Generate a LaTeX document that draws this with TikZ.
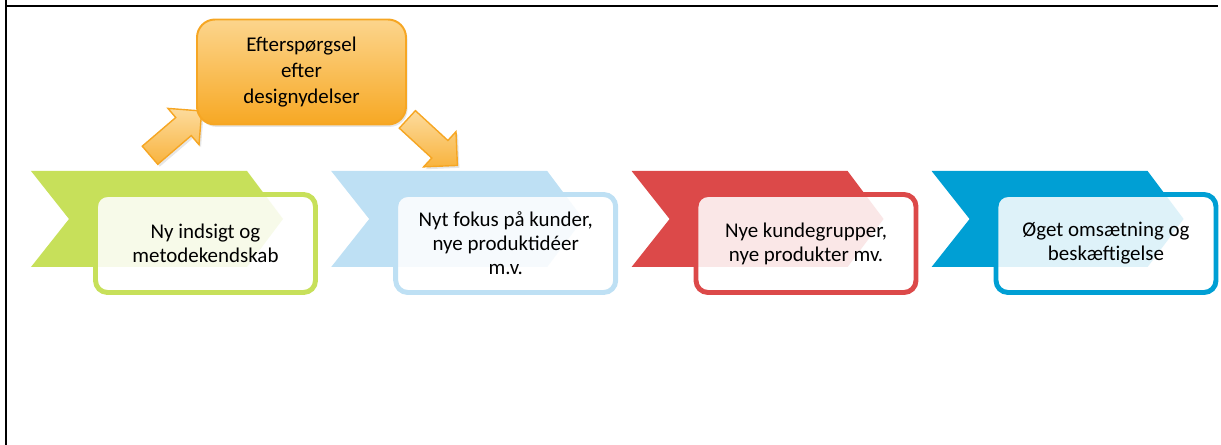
\documentclass[tikz,border=0pt]{standalone}
\usepackage{fontspec}
\setmainfont{Carlito}
\usetikzlibrary{positioning,calc}
\usetikzlibrary{shapes.arrows,shadows}

\definecolor{ribbongreen}{RGB}{199,224,90}
\definecolor{ribbonblue}{RGB}{190,224,244}
\definecolor{ribbonred}{RGB}{220,73,73}
\definecolor{ribbonteal}{RGB}{0,159,212}
\definecolor{demandtop}{RGB}{252,213,140}
\definecolor{demandbottom}{RGB}{247,168,36}
\definecolor{demandline}{RGB}{246,166,35}

\begin{document}
\begin{tikzpicture}[
  stepbox/.style={draw, line width=3.5pt, fill=white, fill opacity=0.87,
    text opacity=1, rounded corners=0.3cm, minimum width=5.5cm,
    minimum height=2.45cm, align=center,
    font=\fontsize{14.9}{17}\selectfont},
  bigarrow/.style={single arrow, single arrow head extend=0.3cm,
    minimum height=1.7cm, inner xsep=0pt, inner ysep=0.28cm,
    draw=demandline, line width=1pt,
    top color=demandtop!85!white, bottom color=demandbottom!75!demandtop,
    drop shadow={opacity=0.2, shadow xshift=0.05cm, shadow yshift=-0.06cm}}
]

\useasboundingbox (0,0) rectangle (30.525,-11.125);

% Frame
\draw[line width=1.8pt] (0.15,0) -- (0.15,-11.125);
\draw[line width=1.8pt] (0.15,-0.15) -- (30.45,-0.15);

% Ribbons
\fill[ribbongreen] (0.775,-4.275) -- ++(5.4,0) -- ++(0.9,-1.2)
  -- ++(-0.9,-1.2) -- ++(-5.4,0) -- ++(0.95,1.2) -- cycle;
\fill[ribbonblue] (8.28,-4.275) -- ++(5.4,0) -- ++(0.9,-1.2)
  -- ++(-0.9,-1.2) -- ++(-5.4,0) -- ++(0.95,1.2) -- cycle;
\fill[ribbonred] (15.79,-4.275) -- ++(5.4,0) -- ++(0.9,-1.2)
  -- ++(-0.9,-1.2) -- ++(-5.4,0) -- ++(0.95,1.2) -- cycle;
\fill[ribbonteal] (23.29,-4.275) -- ++(5.4,0) -- ++(0.9,-1.2)
  -- ++(-0.9,-1.2) -- ++(-5.4,0) -- ++(0.95,1.2) -- cycle;

% Steps
\node[stepbox, draw=ribbongreen] (insight) at (5.1375,-6.0875)
  {Ny indsigt og\\metodekendskab};
\node[stepbox, draw=ribbonblue] (focus) at (12.6425,-6.0875)
  {Nyt fokus på kunder,\\nye produktidéer\\m.v.};
\node[stepbox, draw=ribbonred] (groups) at (20.15,-6.0875)
  {Nye kundegrupper,\\nye produkter mv.};
\node[stepbox, draw=ribbonteal] (turnover) at (27.65,-6.0875)
  {Øget omsætning og\\beskæftigelse};

% Block arrows
\coordinate (uptail) at (3.64,-3.975);
\coordinate (uptip) at (4.925,-2.875);
\node[bigarrow, rotate=40.6] (uparrow) at ($(uptail)!0.5!(uptip)$) {};

\coordinate (downtail) at (10.1,-2.9);
\coordinate (downtip) at (11.3,-4.02);
\node[bigarrow, rotate=-42.6] (downarrow) at ($(downtail)!0.5!(downtip)$) {};

% Demand
\node[draw=demandline, line width=1.4pt, rounded corners=0.45cm,
  top color=demandtop, bottom color=demandbottom,
  minimum width=5.225cm, minimum height=2.625cm, align=center,
  font=\fontsize{14.9}{18.5}\selectfont,
  drop shadow={opacity=0.2, shadow xshift=0.04cm, shadow yshift=-0.06cm}]
  (demand) at (7.5375,-1.8) {Efterspørgsel\\efter\\designydelser};

\end{tikzpicture}
\end{document}
